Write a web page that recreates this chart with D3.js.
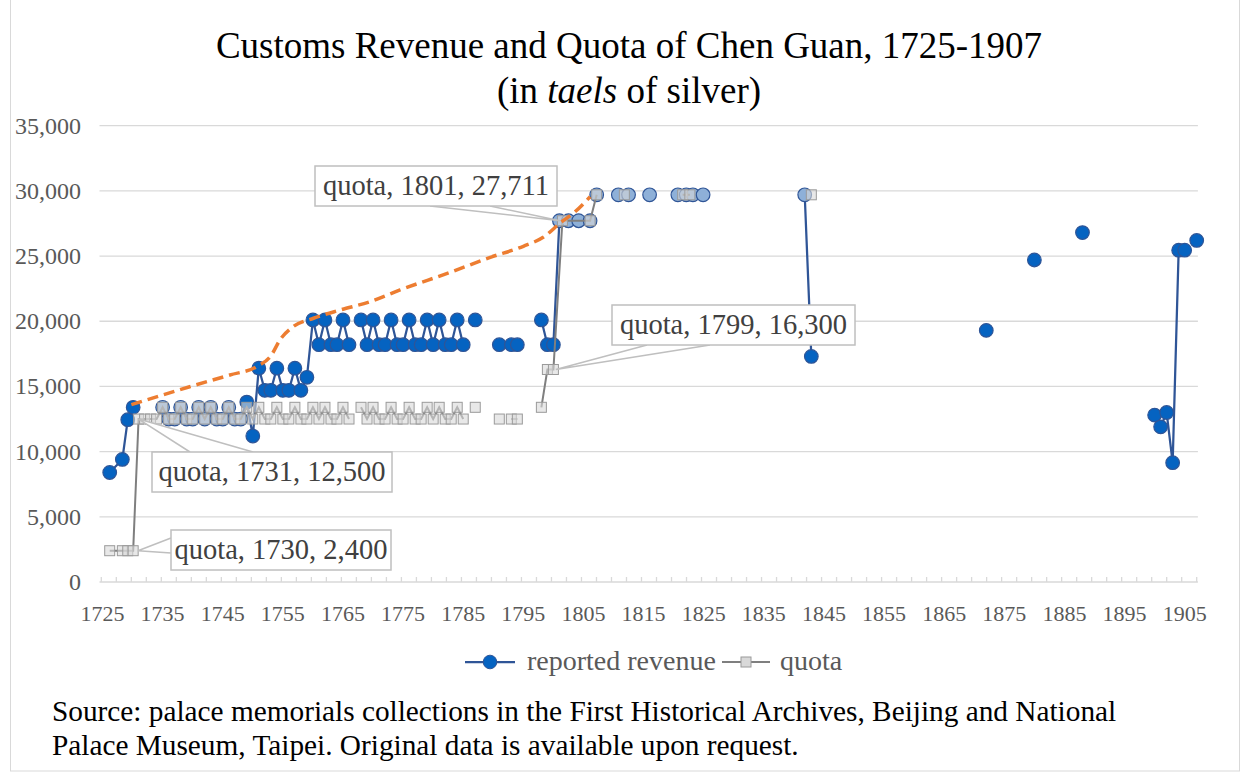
<!DOCTYPE html>
<html>
<head>
<meta charset="utf-8">
<script src="https://cdn.jsdelivr.net/npm/d3@7"></script>
<style>
  body { margin: 0; background: #fff; }
  text { font-family: "Liberation Serif", "Times New Roman", serif; }
</style>
</head>
<body>
<div id="chart"></div>
<script>
// reported revenue, null breaks the line
const revenueYears = [1726.2, 1728.3, 1729.2, 1730.1, null,
  1735, 1736, 1737, 1738, 1739, 1740, 1741, 1742, 1743, 1744, 1745, 1746, 1747, 1748, 1749, 1750,
  1751, 1752, 1753, 1754, 1755, 1756, 1757, 1758, 1759, 1760, 1761, 1762, 1763, 1764, 1765, 1766, null,
  1768, 1769, 1770, 1771, 1772, 1773, 1774, 1775, 1776, 1777, 1778, 1779, 1780, 1781, 1782, 1783, 1784, 1785, null,
  1787, null, 1791, null, 1793, 1794, null,
  1798, 1799, 1800, 1801, 1802.5, 1804.2, 1806.1, null,
  1807.2, null, 1810.8, 1812.5, null, 1816, null, 1820.7, 1822.1, 1823.2, 1824.9, null,
  1841.8, 1842.9, null, 1872, null, 1880, null, 1888, null,
  1900, 1901, 1902, 1903, 1904, 1905, null, 1907];
const revenueValues = [8400, 9400, 12450, 13400, null,
  13400, 12500, 12500, 13400, 12500, 12500, 13400, 12500, 13400, 12500, 12500, 13400, 12500, 12500, 13800, 11200,
  16400, 14700, 14700, 16400, 14700, 14700, 16400, 14700, 15700, 20100, 18200, 20100, 18200, 18200, 20100, 18200, null,
  20100, 18200, 20100, 18200, 18200, 20100, 18200, 18200, 20100, 18200, 18200, 20100, 18200, 20100, 18200, 18200, 20100, 18200, null,
  20100, null, 18200, null, 18200, 18200, null,
  20100, 18200, 18200, 27711, 27711, 27711, 27711, null,
  29700, null, 29700, 29700, null, 29700, null, 29700, 29700, 29700, 29700, null,
  29700, 17300, null, 19300, null, 24700, null, 26800, null,
  12800, 11900, 13000, 9150, 25450, 25450, null, 26200];

// quota
const quotaYears = [1726.2, 1728.3, 1729.2, 1730.1, 1731, 1732, 1733, 1734,
  1735, 1736, 1737, 1738, 1739, 1740, 1741, 1742, 1743, 1744, 1745, 1746, 1747, 1748, 1749, 1750,
  1751, 1752, 1753, 1754, 1755, 1756, 1757, 1758, 1759, 1760, 1761, 1762, 1763, 1764, 1765, 1766, null,
  1768, 1769, 1770, 1771, 1772, 1773, 1774, 1775, 1776, 1777, 1778, 1779, 1780, 1781, 1782, 1783, 1784, 1785, null,
  1787, null, 1791, null, 1793, 1794, null,
  1798, 1799, 1800, 1801.5, 1806.1, 1807.2, null, 1811.8, null, 1821.5, 1822.7, null, 1842.9];
const quotaValues = [2400, 2400, 2400, 2400, 12500, 12500, 12500, 12500,
  13400, 12500, 12500, 13400, 12500, 12500, 13400, 12500, 13400, 12500, 12500, 13400, 12500, 12500, 13400, 12500,
  13400, 12500, 12500, 13400, 12500, 12500, 13400, 12500, 12500, 13400, 12500, 13400, 12500, 12500, 13400, 12500, null,
  13400, 12500, 13400, 12500, 12500, 13400, 12500, 12500, 13400, 12500, 12500, 13400, 12500, 13400, 12500, 12500, 13400, 12500, null,
  13400, null, 12500, null, 12500, 12500, null,
  13400, 16300, 16300, 27711, 27711, 29700, null, 29700, null, 29700, 29700, null, 29700];

// orange dashed trend
const trendYears = [1729.8, 1739.5, 1746.2, 1750.6, 1753.1, 1754.5, 1756.7, 1760.1, 1764.5, 1769.5,
  1774.5, 1782.8, 1789.5, 1795, 1798.3, 1801.4, 1803.3, 1806.1];
const trendValues = [13600, 14980, 15880, 16510, 17410, 18560, 19580, 20230, 20860, 21500,
  22400, 23750, 24900, 25750, 26440, 27640, 28280, 29550];

const yTicks = [0, 5000, 10000, 15000, 20000, 25000, 30000, 35000];
const xLabels = d3.range(1725, 1906, 10);

const callouts = [
  { text: "quota, 1801, 27,711", year: 1801.1, value: 27711, box: [315, 166, 242, 40], base: [[430, 206], [490, 206]] },
  { text: "quota, 1799, 16,300", year: 1800.4, value: 16300, box: [612, 305, 243, 40], base: [[647, 345], [710, 345]] },
  { text: "quota, 1731, 12,500", year: 1731, value: 12500, box: [152, 452, 240, 40], base: [[190, 452], [253, 452]] },
  { text: "quota, 1730, 2,400", year: 1730.9, value: 2400, box: [171, 530, 220, 40], base: [[171, 538], [171, 553]] }
];

const W = 1248, H = 776;
const svg = d3.select("#chart").append("svg").attr("width", W).attr("height", H);
svg.append("rect").attr("x", 10.5).attr("y", -1).attr("width", 1229).attr("height", 772)
  .attr("fill", "#fff").attr("stroke", "#d9d9d9");

const x = d3.scaleLinear().domain([1725, 1907]).range([102.5, 1196.7]);
const y = d3.scaleLinear().domain([0, 35000]).range([582, 125.7]);
const left = x(1724.5), right = x(1907.2);

// gridlines
svg.append("g").selectAll("line").data(yTicks.slice(1)).enter().append("line")
  .attr("x1", left).attr("x2", right)
  .attr("y1", d => y(d)).attr("y2", d => y(d))
  .attr("stroke", "#d9d9d9").attr("stroke-width", 1.3);

// x axis line + small ticks
svg.append("line").attr("x1", left).attr("x2", right).attr("y1", y(0)).attr("y2", y(0))
  .attr("stroke", "#d9d9d9").attr("stroke-width", 1.3);
const tickPos = d3.range(0, 74).map(i => x(1724.8) + i * (x(1907) - x(1724.8)) / 73);
svg.append("g").selectAll("line").data(tickPos).enter().append("line")
  .attr("x1", d => d).attr("x2", d => d).attr("y1", y(0)).attr("y2", y(0) - 5)
  .attr("stroke", "#d9d9d9").attr("stroke-width", 1.3);

// axis labels
svg.append("g").selectAll("text").data(yTicks).enter().append("text")
  .attr("x", 81).attr("y", d => y(d) + 8)
  .attr("text-anchor", "end").attr("font-size", 24).attr("fill", "#595959")
  .text(d => d3.format(",")(d));
svg.append("g").selectAll("text").data(xLabels).enter().append("text")
  .attr("x", d => x(d)).attr("y", 621)
  .attr("text-anchor", "middle").attr("font-size", 22).attr("fill", "#595959")
  .text(d => d);

// title
const title = svg.append("text").attr("x", 629).attr("text-anchor", "middle")
  .attr("font-size", 37).attr("fill", "#000");
title.append("tspan").attr("x", 629).attr("y", 58).text("Customs Revenue and Quota of Chen Guan, 1725-1907");
const t2 = title.append("tspan").attr("x", 629).attr("y", 103);
t2.append("tspan").text("(in ");
t2.append("tspan").attr("font-style", "italic").text("taels");
t2.append("tspan").text(" of silver)");

const revenue = revenueYears.map((yr, i) => ({ yr, v: revenueValues[i] }));
const quota = quotaYears.map((yr, i) => ({ yr, v: quotaValues[i] }));
const trend = trendYears.map((yr, i) => ({ yr, v: trendValues[i] }));
const quotaPts = quota.filter(d => d.v != null);
const matchesQuota = d => quotaPts.some(q => q.v === d.v && Math.abs(q.yr - d.yr) < 4.5);

const line = d3.line().defined(d => d.v != null).x(d => x(d.yr)).y(d => y(d.v));

// reported revenue
svg.append("path").datum(revenue).attr("d", line)
  .attr("fill", "none").attr("stroke", "#2f5597").attr("stroke-width", 2.25);
svg.append("g").selectAll("circle").data(revenue.filter(d => d.v != null)).enter().append("circle")
  .attr("cx", d => x(d.yr)).attr("cy", d => y(d.v)).attr("r", 6.8)
  .attr("fill", d => matchesQuota(d) ? "#8eb0d8" : "#0563c1")
  .attr("stroke", "#2f5597").attr("stroke-width", 1.2);

// quota
svg.append("path").datum(quota).attr("d", line)
  .attr("fill", "none").attr("stroke", "#7f7f7f").attr("stroke-width", 2);
svg.append("g").selectAll("rect").data(quotaPts).enter().append("rect")
  .attr("x", d => x(d.yr) - 5).attr("y", d => y(d.v) - 5).attr("width", 10).attr("height", 10)
  .attr("fill", "rgba(217,217,217,0.6)").attr("stroke", "#9a9a9a").attr("stroke-width", 1);

// trend
svg.append("path").datum(trend).attr("d", d3.line().curve(d3.curveMonotoneX).x(d => x(d.yr)).y(d => y(d.v)))
  .attr("fill", "none").attr("stroke", "#ed7d31").attr("stroke-width", 3.5).attr("stroke-dasharray", "11,6");

// callouts
callouts.forEach(c => {
  const px = x(c.year), py = y(c.value);
  svg.append("path")
    .attr("d", `M${c.base[0][0]},${c.base[0][1]}L${px},${py}L${c.base[1][0]},${c.base[1][1]}`)
    .attr("fill", "#fff").attr("stroke", "#bfbfbf").attr("stroke-width", 1.5);
  svg.append("rect").attr("x", c.box[0]).attr("y", c.box[1]).attr("width", c.box[2]).attr("height", c.box[3])
    .attr("fill", "#fff").attr("stroke", "#bfbfbf").attr("stroke-width", 1.5);
  svg.append("text").attr("x", c.box[0] + c.box[2] / 2).attr("y", c.box[1] + 29)
    .attr("text-anchor", "middle").attr("font-size", 28.5).attr("fill", "#404040").text(c.text);
});

// legend
const lg = svg.append("g");
lg.append("line").attr("x1", 465).attr("x2", 515).attr("y1", 662).attr("y2", 662).attr("stroke", "#2f5597").attr("stroke-width", 2.25);
lg.append("circle").attr("cx", 490).attr("cy", 662).attr("r", 6.8).attr("fill", "#0563c1").attr("stroke", "#2f5597");
lg.append("text").attr("x", 527).attr("y", 670).attr("font-size", 28).attr("fill", "#595959").text("reported revenue");
lg.append("line").attr("x1", 722).attr("x2", 770).attr("y1", 662).attr("y2", 662).attr("stroke", "#7f7f7f").attr("stroke-width", 2);
lg.append("rect").attr("x", 741).attr("y", 657).attr("width", 10).attr("height", 10).attr("fill", "#d9d9d9").attr("stroke", "#9a9a9a");
lg.append("text").attr("x", 780).attr("y", 670).attr("font-size", 28).attr("fill", "#595959").text("quota");

// source note
const src = svg.append("text").attr("font-size", 29.3).attr("fill", "#000");
src.append("tspan").attr("x", 52).attr("y", 721).text("Source: palace memorials collections in the First Historical Archives, Beijing and National");
src.append("tspan").attr("x", 52).attr("y", 755).text("Palace Museum, Taipei. Original data is available upon request.");
</script>
</body>
</html>
